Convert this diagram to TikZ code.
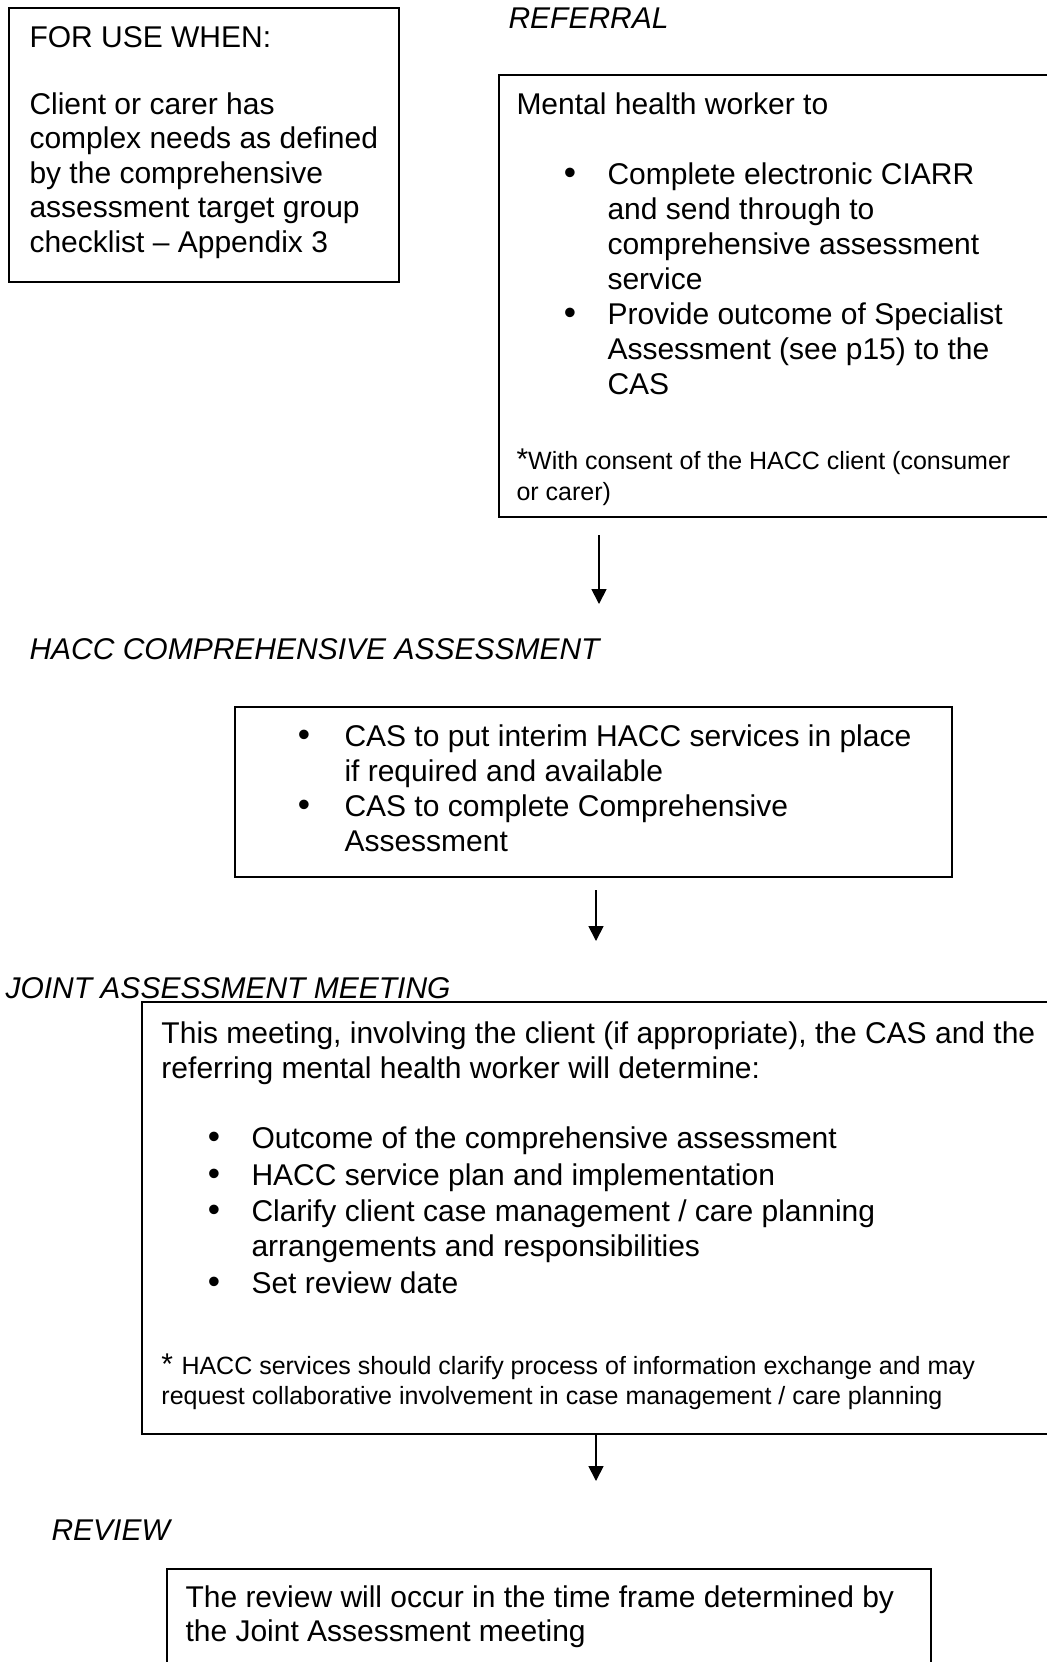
\documentclass[tikz,border=0pt]{standalone}
\usepackage{fontspec}
\setmainfont{Liberation Sans}
\usepackage{tikz}
\usetikzlibrary{arrows.meta}

\newcommand{\smallsz}{\fontsize{10}{11.5}\selectfont}

\begin{document}
\begin{tikzpicture}[x=0.4pt, y=-0.4pt,
    txt/.style={anchor=base west, inner sep=0pt, font=\fontsize{12}{13.8}\selectfont},
    head/.style={txt, font=\fontsize{12}{13.8}\selectfont\itshape},
    dot/.style={anchor=base, inner sep=0pt, font=\fontsize{14}{14}\selectfont},
    box/.style={draw, line width=0.7pt, inner sep=0pt, anchor=north west},
    flow/.style={-{Triangle[length=6pt, width=6pt]}, line width=0.7pt}]

\clip (0,0) rectangle (1047,1662);

% Criteria box
\node[box, minimum width=156pt, minimum height=109.6pt] (use) at (8,7) {};
\node[txt] (use-t) at (29,47) {FOR USE WHEN:};
\foreach \y/\t [count=\i] in {114/Client or carer has, 148.5/complex needs as defined,
    183/by the comprehensive, 217.5/assessment target group, 252/checklist – Appendix 3} {
    \node[txt] (use-\i) at (29,\y) {\t};
}

% Referral
\node[head] (ref-h) at (508,28) {REFERRAL};
\node[box, minimum width=220.4pt, minimum height=176.8pt] (ref) at (498,74) {};
\node[txt] (ref-t) at (516,114) {Mental health worker to};
\foreach \y [count=\i] in {184,324} {
    \node[dot] (ref-b\i) at (570,\y) {\textbullet};
}
\foreach \y/\t [count=\i] in {184/Complete electronic CIARR, 219/and send through to,
    254/comprehensive assessment, 289/service, 324/Provide outcome of Specialist,
    359/Assessment (see p15) to the, 394/CAS} {
    \node[txt] (ref-\i) at (607,\y) {\t};
}
\node[txt] (ref-f1) at (516,469) {*\smallsz With consent of the HACC client (consumer};
\node[txt] (ref-f2) at (516,500) {\smallsz or carer)};

\coordinate (a1) at (599,535);
\coordinate (b1) at (599,604);
\draw[flow] (a1) -- (b1);

% Comprehensive assessment
\node[head] (cas-h) at (29,659) {HACC COMPREHENSIVE ASSESSMENT};
\node[box, minimum width=286.8pt, minimum height=68pt] (cas) at (234,706) {};
\foreach \y [count=\i] in {746,816} {
    \node[dot] (cas-b\i) at (304,\y) {\textbullet};
}
\foreach \y/\t [count=\i] in {746/CAS to put interim HACC services in place,
    781/if required and available, 816/CAS to complete Comprehensive, 851/Assessment} {
    \node[txt] (cas-\i) at (344,\y) {\t};
}

\coordinate (a2) at (596,890);
\coordinate (b2) at (596,941);
\draw[flow] (a2) -- (b2);

% Joint assessment meeting
\node[head] (jam-h) at (5,998) {JOINT ASSESSMENT MEETING};
\node[box, minimum width=363.2pt, minimum height=172.8pt] (jam) at (141,1001) {};
\node[txt] (jam-t1) at (161,1043) {This meeting, involving the client (if appropriate), the CAS and the};
\node[txt] (jam-t2) at (161,1078) {referring mental health worker will determine:};
\foreach \y [count=\i] in {1148,1185,1221,1293} {
    \node[dot] (jam-b\i) at (214,\y) {\textbullet};
}
\foreach \y/\t [count=\i] in {1148/Outcome of the comprehensive assessment,
    1185/HACC service plan and implementation,
    1221/{Clarify client case management / care planning},
    1256/arrangements and responsibilities, 1293/Set review date} {
    \node[txt] (jam-\i) at (251,\y) {\t};
}
\node[txt] (jam-f1) at (161,1374) {* \smallsz HACC services should clarify process of information exchange and may};
\node[txt] (jam-f2) at (161,1404) {\smallsz request collaborative involvement in case management / care planning};

\coordinate (a3) at (596,1433);
\coordinate (b3) at (596,1481);
\draw[flow] (a3) -- (b3);

% Review
\node[head] (rev-h) at (51,1540) {REVIEW};
\node[box, minimum width=305.6pt, minimum height=44.8pt] (rev) at (166,1568) {};
\node[txt] (rev-t1) at (185,1607) {The review will occur in the time frame determined by};
\node[txt] (rev-t2) at (185,1641) {the Joint Assessment meeting};

\end{tikzpicture}
\end{document}
